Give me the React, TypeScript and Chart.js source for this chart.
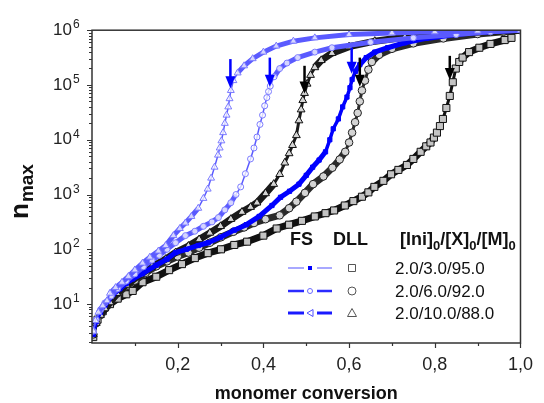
import React, { useEffect, useRef } from 'react';
import { Chart, registerables } from 'chart.js';

Chart.register(...registerables);

// ---------- data (monomer conversion vs n_max) ----------
// FS, [Ini]0/[X]0/[M]0 = 2.0/10.0/88.0 (triangles)
const fsTriX = [0.003, 0.008, 0.015, 0.025, 0.035, 0.042, 0.055, 0.07, 0.085, 0.1, 0.118, 0.135, 0.155, 0.172, 0.19, 0.205, 0.218, 0.232, 0.248, 0.26, 0.27, 0.278, 0.286, 0.294, 0.298, 0.302, 0.306, 0.31, 0.314, 0.318, 0.321, 0.324, 0.33, 0.34, 0.355, 0.375, 0.4, 0.43, 0.47, 0.52, 0.6, 0.7, 0.8, 0.9, 1.0];
const fsTriN = [3.2, 5, 7.1, 9.3, 11.5, 15.8, 20, 25, 32, 42, 56, 72, 93, 117, 178, 240, 302, 398, 562, 851, 1259, 1995, 3162, 5248, 7079, 9550, 13490, 19950, 28180, 39810, 56230, 79430, 120200, 166000, 223900, 302000, 398100, 512900, 631000, 724400, 831800, 891300, 933300, 966000, 1000000];

// FS, 2.0/6.0/92.0 (circles)
const fsCircX = [0.003, 0.01, 0.02, 0.03, 0.045, 0.06, 0.08, 0.1, 0.12, 0.14, 0.157, 0.175, 0.195, 0.218, 0.24, 0.26, 0.28, 0.295, 0.31, 0.324, 0.336, 0.347, 0.358, 0.37, 0.378, 0.385, 0.392, 0.398, 0.403, 0.408, 0.412, 0.416, 0.425, 0.438, 0.455, 0.48, 0.52, 0.56, 0.65, 0.75, 0.85, 0.93, 1.0];
const fsCircN = [3.2, 5.2, 7.9, 10.5, 14.1, 19.1, 26.3, 35.5, 47.9, 63.1, 77.6, 100, 131.8, 177.8, 213.8, 263, 316.2, 380.2, 524.8, 707.9, 1000, 1380, 2399, 4467, 7079, 11220, 19050, 28180, 41690, 58880, 75860, 95500, 141300, 199500, 251200, 316200, 398100, 478600, 602600, 724400, 831800, 933300, 1000000];

// FS, 2.0/3.0/95.0 (filled squares)
const fsSqX = [0.003, 0.01, 0.02, 0.03, 0.049, 0.065, 0.08, 0.095, 0.118, 0.15, 0.175, 0.195, 0.22, 0.248, 0.271, 0.3, 0.332, 0.36, 0.39, 0.42, 0.44, 0.461, 0.483, 0.5, 0.515, 0.53, 0.545, 0.555, 0.563, 0.575, 0.585, 0.595, 0.602, 0.607, 0.615, 0.625, 0.64, 0.66, 0.69, 0.73, 0.78, 0.85, 0.92, 1.0];
const fsSqN = [2.8, 4.8, 7.1, 9.5, 15.1, 19.1, 24, 28.8, 36, 51.3, 66.1, 87.1, 100, 117.5, 131.8, 166, 223.9, 281.8, 398.1, 631, 891, 1148, 1549, 2239, 3162, 4266, 6026, 10000, 15850, 23990, 39810, 60260, 89130, 125900, 177800, 234400, 316200, 398100, 478600, 588800, 707900, 831800, 933300, 1000000];

// DLL, 2.0/10.0/88.0 (triangles)
const dllTriX = [0.003, 0.01, 0.02, 0.03, 0.042, 0.058, 0.08, 0.111, 0.14, 0.172, 0.195, 0.225, 0.25, 0.275, 0.3, 0.324, 0.35, 0.37, 0.385, 0.405, 0.424, 0.438, 0.45, 0.46, 0.468, 0.477, 0.483, 0.488, 0.492, 0.496, 0.502, 0.51, 0.52, 0.535, 0.56, 0.6, 0.66, 0.73, 0.8, 0.88, 0.95, 1.0];
const dllTriN = [2.8, 4.5, 6.3, 8.3, 10.7, 15.8, 22.4, 33.9, 47.9, 66.1, 87.1, 114.8, 151.4, 199.5, 263, 354.8, 478.6, 588.8, 707.9, 1047, 1549, 2344, 3802, 5623, 7943, 12020, 22390, 35480, 52480, 70790, 104700, 151400, 208900, 281800, 380200, 501200, 631000, 741300, 831800, 912000, 955000, 1000000];

// DLL, 2.0/6.0/92.0 (circles)
const dllCircX = [0.003, 0.01, 0.02, 0.03, 0.045, 0.06, 0.08, 0.1, 0.125, 0.15, 0.175, 0.2, 0.225, 0.25, 0.275, 0.301, 0.33, 0.355, 0.378, 0.405, 0.438, 0.46, 0.477, 0.497, 0.516, 0.54, 0.561, 0.578, 0.591, 0.6, 0.607, 0.614, 0.62, 0.625, 0.63, 0.637, 0.645, 0.653, 0.67, 0.7, 0.75, 0.82, 0.9, 0.96, 1.0];
const dllCircN = [2.8, 4.5, 6.3, 8.3, 11.7, 15.8, 21.4, 26.9, 37.2, 49, 60.3, 74.1, 87.1, 107.2, 131.8, 166, 208.9, 251.2, 302, 354.8, 416.9, 562.3, 741.3, 1072, 1549, 2138, 3090, 4365, 6026, 8913, 13490, 20890, 30900, 50120, 79430, 120200, 190500, 263000, 354800, 457100, 575400, 707900, 851100, 933300, 1000000];

// DLL, 2.0/3.0/95.0 (squares)
const dllSqX = [0.003, 0.013, 0.025, 0.042, 0.06, 0.08, 0.095, 0.118, 0.15, 0.18, 0.21, 0.24, 0.27, 0.301, 0.332, 0.362, 0.4, 0.431, 0.46, 0.49, 0.52, 0.545, 0.565, 0.59, 0.61, 0.63, 0.645, 0.659, 0.68, 0.698, 0.715, 0.735, 0.75, 0.767, 0.78, 0.79, 0.798, 0.805, 0.812, 0.819, 0.827, 0.835, 0.842, 0.849, 0.857, 0.865, 0.88, 0.904, 0.93, 0.963, 0.979];
const dllSqN = [2.5, 5.2, 7.4, 10, 12.6, 15.1, 17.4, 25.1, 31.6, 41.7, 53.7, 69.2, 85.1, 100, 120.2, 138, 177.8, 239.9, 281.8, 331.1, 398.1, 457.1, 512.9, 631, 758.6, 912, 1096, 1380, 1778, 2344, 2818, 3467, 4467, 6026, 7586, 8913, 10960, 13490, 17780, 23990, 38020, 63100, 112200, 199500, 263000, 316200, 398100, 478600, 562300, 660700, 724400];

// arrows marking the gel points (x, tail n, tip n)
const fsArrowX = [0.323, 0.415, 0.606];
const fsArrowFrom = [297000, 316000, 480000];
const fsArrowTo = [87000, 93000, 160000];
const dllArrowX = [0.496, 0.625, 0.835];
const dllArrowFrom = [224000, 316000, 340000];
const dllArrowTo = [70000, 93000, 123000];

// axes
const xTickValues = [0.2, 0.4, 0.6, 0.8, 1.0];
const xTickLabels = ['0,2', '0,4', '0,6', '0,8', '1,0'];
const xMinorValues = [0.1, 0.3, 0.5, 0.7, 0.9];
const yTickValues = [10, 100, 1000, 10000, 100000, 1000000];
const yTickBase = ['10', '10', '10', '10', '10', '10'];
const yTickExponents = ['1', '2', '3', '4', '5', '6'];

// legend
const legendHeaders = ['FS', 'DLL'];
const legendRatios = ['2.0/3.0/95.0', '2.0/6.0/92.0', '2.0/10.0/88.0'];

const FONT = '"Liberation Sans", Arial, Helvetica, sans-serif';

const pts = (xs: number[], ys: number[]) => xs.map((x, i) => ({ x, y: ys[i] }));

// thick band where the simulated points crowd together (shallow parts), thin where they spread (steep parts)
const bandWidth = (thick: number, thin: number) => (c: any) => {
  const dx = Math.abs(c.p1.x - c.p0.x);
  const dy = Math.abs(c.p1.y - c.p0.y);
  return dy > 1.6 * dx ? thin : thick;
};

function drawArrow(ctx: CanvasRenderingContext2D, px: number, y0: number, y1: number, color: string) {
  const headLen = 12;
  const hw = 5;
  ctx.save();
  ctx.strokeStyle = color;
  ctx.fillStyle = color;
  ctx.lineWidth = 2.5;
  ctx.beginPath();
  ctx.moveTo(px, y0);
  ctx.lineTo(px, y1 - headLen + 1);
  ctx.stroke();
  ctx.beginPath();
  ctx.moveTo(px - hw, y1 - headLen);
  ctx.lineTo(px + hw, y1 - headLen);
  ctx.lineTo(px, y1);
  ctx.closePath();
  ctx.fill();
  ctx.restore();
}

function drawSubText(ctx: CanvasRenderingContext2D, parts: [string, boolean][], x: number, y: number, big: string, small: string) {
  let cx = x;
  for (const [t, sub] of parts) {
    ctx.font = sub ? small : big;
    ctx.fillText(t, cx, sub ? y + 5 : y);
    cx += ctx.measureText(t).width;
  }
}

const overlayPlugin = {
  id: 'overlay',
  afterDatasetsDraw(chart: any) {
    const { ctx, scales } = chart;
    const x = scales.x;
    const y = scales.y;
    fsArrowX.forEach((v, i) => {
      drawArrow(ctx, x.getPixelForValue(v), y.getPixelForValue(fsArrowFrom[i]), y.getPixelForValue(fsArrowTo[i]), '#0000ff');
    });
    dllArrowX.forEach((v, i) => {
      drawArrow(ctx, x.getPixelForValue(v), y.getPixelForValue(dllArrowFrom[i]), y.getPixelForValue(dllArrowTo[i]), '#000000');
    });
  },
  afterDraw(chart: any) {
    const { ctx, chartArea: ca, scales } = chart;
    const x = scales.x;
    const y = scales.y;
    ctx.save();
    // frame
    ctx.strokeStyle = '#333';
    ctx.lineWidth = 1.5;
    ctx.strokeRect(ca.left, ca.top, ca.right - ca.left, ca.bottom - ca.top);
    // x ticks
    ctx.lineWidth = 1.2;
    ctx.beginPath();
    xTickValues.forEach((v) => {
      const px = Math.round(x.getPixelForValue(v)) + 0.5;
      ctx.moveTo(px, ca.bottom);
      ctx.lineTo(px, ca.bottom + 5);
    });
    xMinorValues.forEach((v) => {
      const px = Math.round(x.getPixelForValue(v)) + 0.5;
      ctx.moveTo(px, ca.bottom);
      ctx.lineTo(px, ca.bottom + 3);
    });
    // y ticks (major at decades, minor at 2..9)
    for (let d = 0; d <= 6; d++) {
      for (let k = 1; k <= 9; k++) {
        const v = k * Math.pow(10, d);
        if (v < y.min || v > y.max) continue;
        const py = Math.round(y.getPixelForValue(v)) + 0.5;
        ctx.moveTo(ca.left, py);
        ctx.lineTo(ca.left - (k === 1 ? 5 : 3), py);
      }
    }
    ctx.stroke();

    // exponents of the y tick labels (superscripts)
    ctx.fillStyle = '#222';
    ctx.font = `12px ${FONT}`;
    ctx.textAlign = 'left';
    ctx.textBaseline = 'alphabetic';
    yTickValues.forEach((v, i) => {
      const py = y.getPixelForValue(v);
      ctx.fillText(yTickExponents[i], ca.left - 19, py - 2);
    });

    // y title n_max
    ctx.fillStyle = '#111';
    ctx.save();
    ctx.translate(28, 219);
    ctx.rotate(-Math.PI / 2);
    ctx.textAlign = 'left';
    ctx.textBaseline = 'alphabetic';
    ctx.font = `bold 26px ${FONT}`;
    ctx.fillText('n', 0, 0);
    const nw = ctx.measureText('n').width;
    ctx.font = `bold 19px ${FONT}`;
    ctx.fillText('max', nw + 1, 5);
    ctx.restore();

    // legend
    ctx.textAlign = 'left';
    ctx.textBaseline = 'alphabetic';
    ctx.fillStyle = '#111';
    ctx.font = `bold 18px ${FONT}`;
    ctx.fillText(legendHeaders[0], 290, 245);
    ctx.fillText(legendHeaders[1], 333, 245);
    drawSubText(ctx, [['[Ini]', false], ['0', true], ['/[X]', false], ['0', true], ['/[M]', false], ['0', true]], 400, 245, `bold 18px ${FONT}`, `bold 13px ${FONT}`);

    const rowY = [268, 291, 313];
    const lineCols = ['#8c8cff', '#2b2bff', '#1a1aff'];
    const lineWs = [1.5, 2.5, 3];
    rowY.forEach((ry, i) => {
      ctx.strokeStyle = lineCols[i];
      ctx.lineWidth = lineWs[i];
      ctx.beginPath();
      ctx.moveTo(288, ry);
      ctx.lineTo(304, ry);
      ctx.moveTo(317, ry);
      ctx.lineTo(332, ry);
      ctx.stroke();
      // FS marker
      ctx.lineWidth = 1;
      if (i === 0) {
        ctx.fillStyle = '#0000ff';
        ctx.fillRect(308, ry - 2, 4, 4);
      } else if (i === 1) {
        ctx.strokeStyle = '#6a6aff';
        ctx.beginPath();
        ctx.arc(310, ry, 2.5, 0, Math.PI * 2);
        ctx.stroke();
      } else {
        ctx.strokeStyle = '#5050ff';
        ctx.beginPath();
        ctx.moveTo(307, ry);
        ctx.lineTo(313, ry - 3.5);
        ctx.lineTo(313, ry + 3.5);
        ctx.closePath();
        ctx.stroke();
      }
      // DLL marker
      ctx.strokeStyle = '#555';
      ctx.lineWidth = 1;
      ctx.beginPath();
      if (i === 0) {
        ctx.rect(348.5, ry - 3.5, 7, 7);
      } else if (i === 1) {
        ctx.arc(352, ry, 4, 0, Math.PI * 2);
      } else {
        ctx.moveTo(352, ry - 4.5);
        ctx.lineTo(356.5, ry + 3.5);
        ctx.lineTo(347.5, ry + 3.5);
        ctx.closePath();
      }
      ctx.stroke();
      // text
      ctx.fillStyle = '#111';
      ctx.font = `17px ${FONT}`;
      ctx.fillText(legendRatios[i], 395, ry + 6);
    });
    ctx.restore();
  },
};

export default function App() {
  const canvasRef = useRef<HTMLCanvasElement | null>(null);

  useEffect(() => {
    if (!canvasRef.current) return;
    const chart = new Chart(canvasRef.current, {
      type: 'line',
      data: {
        datasets: [
          {
            label: 'FS 2.0/10.0/88.0',
            data: pts(fsTriX, fsTriN),
            borderColor: '#5a5aff',
            borderWidth: 2,
            segment: { borderWidth: bandWidth(5, 1.5) },
            pointStyle: 'triangle',
            pointRadius: 4,
            pointBorderColor: '#7a7aff',
            pointBackgroundColor: 'rgba(255,255,255,0.75)',
            pointBorderWidth: 1,
            tension: 0,
          },
          {
            label: 'FS 2.0/6.0/92.0',
            data: pts(fsCircX, fsCircN),
            borderColor: '#5a5aff',
            borderWidth: 2,
            segment: { borderWidth: bandWidth(5, 1.5) },
            pointStyle: 'circle',
            pointRadius: 3,
            pointBorderColor: '#7a7aff',
            pointBackgroundColor: 'rgba(255,255,255,0.75)',
            pointBorderWidth: 1,
            tension: 0,
          },
          {
            label: 'FS 2.0/3.0/95.0',
            data: pts(fsSqX, fsSqN),
            borderColor: '#0000ff',
            borderWidth: 4,
            segment: { borderWidth: bandWidth(5, 3.5) },
            pointStyle: 'rect',
            pointRadius: 3,
            pointBorderColor: '#0000ff',
            pointBackgroundColor: '#0000ff',
            pointBorderWidth: 1,
            tension: 0,
          },
          {
            label: 'DLL 2.0/10.0/88.0',
            data: pts(dllTriX, dllTriN),
            borderColor: '#1a1a1a',
            borderWidth: 5,
            segment: { borderWidth: bandWidth(7, 3) },
            pointStyle: 'triangle',
            pointRadius: 4.5,
            pointBorderColor: '#111',
            pointBackgroundColor: '#d4d4d4',
            pointBorderWidth: 1,
            tension: 0,
          },
          {
            label: 'DLL 2.0/6.0/92.0',
            data: pts(dllCircX, dllCircN),
            borderColor: '#2a2a2a',
            borderWidth: 5,
            segment: { borderWidth: bandWidth(7, 3) },
            pointStyle: 'circle',
            pointRadius: 3.8,
            pointBorderColor: '#222',
            pointBackgroundColor: '#d4d4d4',
            pointBorderWidth: 1,
            tension: 0,
          },
          {
            label: 'DLL 2.0/3.0/95.0',
            data: pts(dllSqX, dllSqN),
            borderColor: '#111',
            borderWidth: 5,
            segment: { borderWidth: bandWidth(7, 3) },
            pointStyle: 'rect',
            pointRadius: 5,
            pointBorderColor: '#111',
            pointBackgroundColor: '#c4c4c4',
            pointBorderWidth: 1,
            tension: 0,
          },
        ],
      },
      options: {
        animation: false,
        responsive: false,
        maintainAspectRatio: false,
        layout: { padding: { top: 22, right: 16, left: 0, bottom: 0 } },
        plugins: {
          legend: { display: false },
          tooltip: { enabled: false },
        },
        scales: {
          x: {
            type: 'linear',
            min: 0,
            max: 1,
            grid: { display: false, drawTicks: false },
            border: { display: false },
            afterFit: (s: any) => {
              s.height = 60;
            },
            afterBuildTicks: (s: any) => {
              s.ticks = xTickValues.map((v) => ({ value: v }));
            },
            ticks: {
              autoSkip: false,
              maxRotation: 0,
              padding: 11,
              color: '#222',
              font: { family: FONT, size: 18 },
              callback: (_v: any, i: number) => xTickLabels[i],
            },
            title: {
              display: true,
              text: 'monomer conversion',
              color: '#111',
              font: { family: FONT, size: 18, weight: 'bold', lineHeight: 1 },
              padding: { top: 0, bottom: 0 },
            },
          },
          y: {
            type: 'logarithmic',
            min: 1.95,
            max: 1000000,
            grid: { display: false, drawTicks: false },
            border: { display: false },
            afterFit: (s: any) => {
              s.width = 92;
            },
            afterBuildTicks: (s: any) => {
              s.ticks = yTickValues.map((v) => ({ value: v }));
            },
            ticks: {
              autoSkip: false,
              padding: 20,
              color: '#222',
              font: { family: FONT, size: 17 },
              callback: (_v: any, i: number) => yTickBase[i],
            },
          },
        },
      },
      plugins: [overlayPlugin],
    } as any);
    return () => chart.destroy();
  }, []);

  return (
    <div style={{ position: 'absolute', left: 0, top: 0, width: 544, height: 403, background: '#fff' }}>
      <canvas ref={canvasRef} width={544} height={403} style={{ display: 'block' }} />
    </div>
  );
}
